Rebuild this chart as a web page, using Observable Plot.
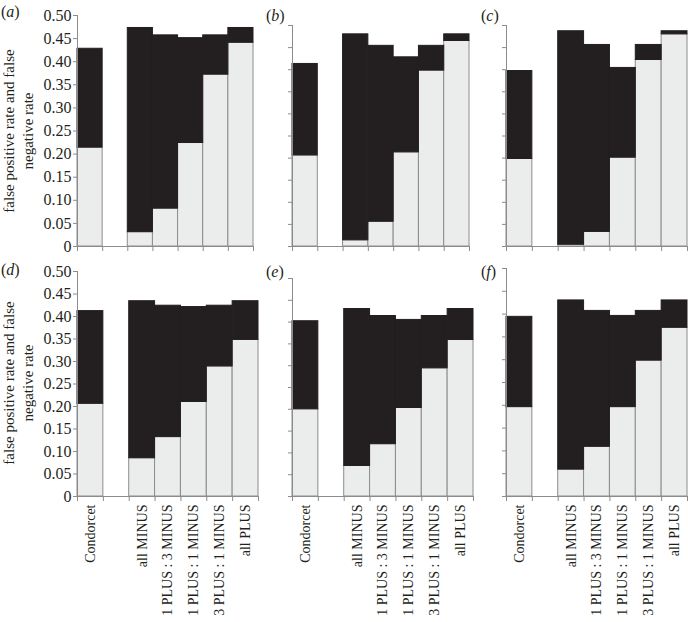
<!DOCTYPE html>
<html>
<head>
<meta charset="utf-8">
<script src="https://cdn.jsdelivr.net/npm/d3@7"></script>
<script src="https://cdn.jsdelivr.net/npm/@observablehq/plot@0.6"></script>
<style>
  html, body { margin: 0; padding: 0; background: #fff; }
  #root { position: relative; width: 688px; height: 622px; font-family: "Liberation Serif", serif; color: #231f20; overflow: hidden; }
  .panel { position: absolute; }
  .tag { position: absolute; font-size: 16px; line-height: 16px; white-space: nowrap; }
  .ylab { position: absolute; font-size: 15px; line-height: 19px; text-align: center; white-space: nowrap;
          transform: translate(-50%, -50%) rotate(-90deg); }
</style>
</head>
<body>
<div id="root"></div>
<script>
// ---- data ----
const categories = ["Condorcet", "", "all MINUS", "1 PLUS : 3 MINUS", "1 PLUS : 1 MINUS", "3 PLUS : 1 MINUS", "all PLUS"];
const yTicks = [0, 0.05, 0.10, 0.15, 0.20, 0.25, 0.30, 0.35, 0.40, 0.45, 0.50];
const panelTags = ["a", "b", "c", "d", "e", "f"];
const yLabelLines = ["false positive rate and false", "negative rate"];

// light (lower) segment and dark (upper) segment for each category; null = empty slot
const lightA = [0.214, null, 0.031, 0.082, 0.224, 0.372, 0.441];
const darkA  = [0.214, null, 0.442, 0.375, 0.227, 0.085, 0.032];
const lightB = [0.206, null, 0.014, 0.056, 0.213, 0.398, 0.465];
const darkB  = [0.207, null, 0.466, 0.398, 0.215, 0.056, 0.015];
const lightC = [0.198, null, 0.004, 0.033, 0.201, 0.422, 0.480];
const darkC  = [0.199, null, 0.483, 0.423, 0.203, 0.034, 0.007];
const lightD = [0.206, null, 0.085, 0.132, 0.210, 0.289, 0.348];
const darkD  = [0.206, null, 0.349, 0.292, 0.211, 0.135, 0.086];
const lightE = [0.200, null, 0.070, 0.120, 0.203, 0.294, 0.359];
const darkE  = [0.202, null, 0.360, 0.294, 0.202, 0.120, 0.071];
const lightF = [0.196, null, 0.059, 0.109, 0.196, 0.298, 0.370];
const darkF  = [0.198, null, 0.371, 0.298, 0.200, 0.109, 0.060];

// ---- layout ----
const AXIS = "#8c8c8c";
const panels = [
  {light: lightA, dark: darkA, left: 0,   top: 0,   width: 258, height: 256, mL: 77, mR: 5, mT: 15, mB: 10, showY: true,  showX: false, tagX: 1,   tagY: 4},
  {light: lightB, dark: darkB, left: 258, top: 0,   width: 214, height: 256, mL: 34, mR: 3, mT: 25, mB: 10, showY: false, showX: false, tagX: 266, tagY: 8},
  {light: lightC, dark: darkC, left: 472, top: 0,   width: 216, height: 256, mL: 34, mR: 1, mT: 25, mB: 10, showY: false, showX: false, tagX: 481, tagY: 8},
  {light: lightD, dark: darkD, left: 0,   top: 256, width: 260, height: 366, mL: 77, mR: 2, mT: 15, mB: 126, showY: true,  showX: true, tagX: 1,   tagY: 262},
  {light: lightE, dark: darkE, left: 260, top: 256, width: 215, height: 366, mL: 32, mR: 2, mT: 22, mB: 126, showY: false, showX: true, tagX: 266, tagY: 264},
  {light: lightF, dark: darkF, left: 475, top: 256, width: 213, height: 366, mL: 31, mR: 1, mT: 12, mB: 126, showY: false, showX: true, tagX: 481, tagY: 264}
];

const root = document.getElementById("root");
const fmt = d => d === 0 ? "0" : d.toFixed(2);

panels.forEach((p, k) => {
  const rows = categories.map((c, i) => ({i, cat: c, light: p.light[i], dark: p.dark[i]}))
                         .filter(d => d.light != null);
  const marks = [
    Plot.rectY(rows, {x1: "i", x2: d => d.i + 1, y1: 0, y2: "light", fill: "#ebedec", stroke: AXIS, strokeWidth: 1}),
    Plot.rectY(rows, {x1: "i", x2: d => d.i + 1, y1: "light", y2: d => d.light + d.dark, fill: "#231f20", stroke: "#231f20", strokeWidth: 1}),
    Plot.ruleX([0], {y1: 0, y2: 0.5, stroke: AXIS}),
    Plot.ruleY([0], {stroke: AXIS}),
    Plot.axisY({ticks: yTicks, tickSize: 4, tickPadding: 2, stroke: AXIS, fill: "#231f20", fontSize: 16,
                tickFormat: p.showY ? fmt : () => "", label: null}),
    Plot.axisX({ticks: d3.range(categories.length + 1), tickSize: 5, stroke: AXIS, tickFormat: () => "", label: null})
  ];
  if (p.showX) {
    marks.push(Plot.axisX({ticks: categories.map((c, i) => i + 0.5), tickSize: 0, tickPadding: 8, tickRotate: -90,
                           fill: "#231f20", fontSize: 14, tickFormat: v => categories[Math.floor(v)], label: null}));
  }
  const chart = Plot.plot({
    width: p.width, height: p.height,
    marginLeft: p.mL, marginRight: p.mR, marginTop: p.mT, marginBottom: p.mB,
    style: {background: "transparent", fontFamily: "Liberation Serif, serif", fontSize: "15px", overflow: "visible"},
    x: {domain: [0, categories.length], axis: null},
    y: {domain: [0, 0.5], axis: null},
    marks
  });
  const wrap = document.createElement("div");
  wrap.className = "panel";
  wrap.style.left = p.left + "px";
  wrap.style.top = p.top + "px";
  wrap.appendChild(chart);
  root.appendChild(wrap);

  const tag = document.createElement("div");
  tag.className = "tag";
  tag.style.left = p.tagX + "px";
  tag.style.top = p.tagY + "px";
  tag.innerHTML = "(<i>" + panelTags[k] + "</i>)";
  root.appendChild(tag);
});

// y-axis titles
[131, 383].forEach(cy => {
  const lab = document.createElement("div");
  lab.className = "ylab";
  lab.style.left = "19px";
  lab.style.top = cy + "px";
  lab.innerHTML = yLabelLines.join("<br>");
  root.appendChild(lab);
});
</script>
</body>
</html>
